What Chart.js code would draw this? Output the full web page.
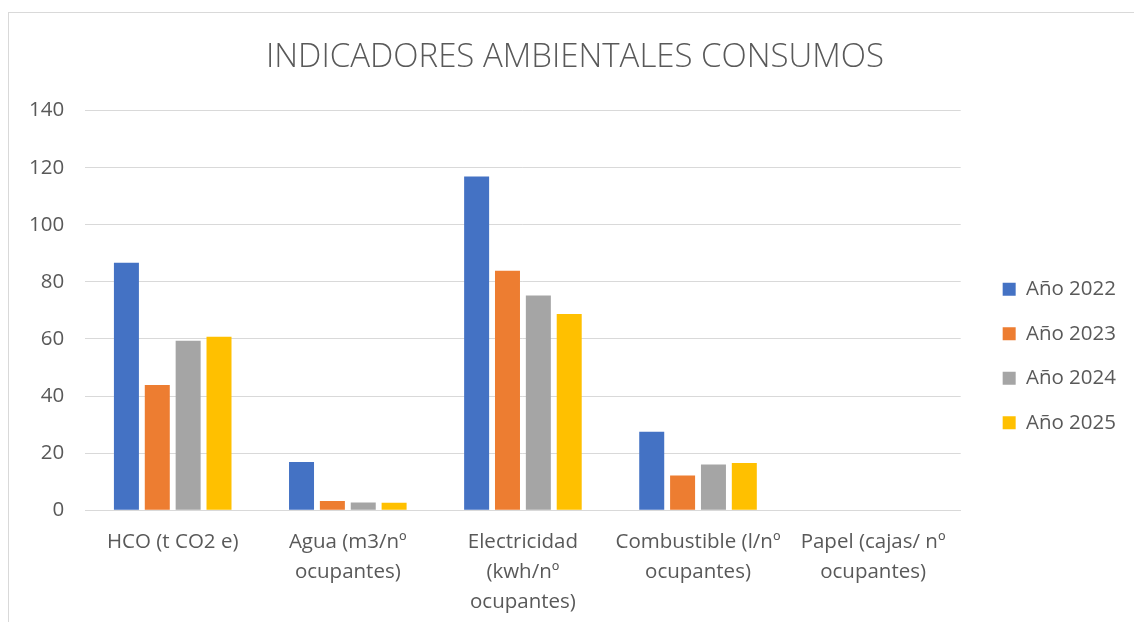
<!DOCTYPE html>
<html>
<head>
<meta charset="utf-8">
<script src="https://cdn.jsdelivr.net/npm/chart.js@4/dist/chart.umd.min.js"></script>
<style>
  html, body { margin: 0; padding: 0; background: #fff; overflow: hidden; }
  #marco { position: absolute; left: 8px; top: 12px; width: 1200px; height: 700px; border: 1px solid #d9d9d9; }
  #caja { position: absolute; left: 8px; top: 0; width: 1126px; height: 622px; }
</style>
</head>
<body>
<div id="marco"></div>
<div id="caja"><canvas id="grafico"></canvas></div>
<script>
const categorias = [
  ['HCO (t CO2 e)'],
  ['Agua (m3/nº', 'ocupantes)'],
  ['Electricidad', '(kwh/nº', 'ocupantes)'],
  ['Combustible (l/nº', 'ocupantes)'],
  ['Papel (cajas/ nº', 'ocupantes)']
];
const anio2022 = [86.7, 16.9, 116.9, 27.5, 0];
const anio2023 = [43.9, 3.2, 83.9, 12.2, 0];
const anio2024 = [59.4, 2.7, 75.2, 16.0, 0];
const anio2025 = [60.8, 2.6, 68.7, 16.5, 0];
const series = ['Año 2022', 'Año 2023', 'Año 2024', 'Año 2025'];
const colores = ['#4472C4', '#ED7D31', '#A5A5A5', '#FFC000'];

const fuente = 'Open Sans';
const gris = '#595959';

// deja un hueco entre el area del grafico y la leyenda, la baja un poco
// y corre el titulo hacia la derecha como en el original
const margenLeyenda = 18;
const bajarLeyenda = 39;
const correrTitulo = 16;
const ajustesLayout = {
  id: 'ajustesLayout',
  beforeInit(chart) {
    const fitOriginal = chart.legend.fit;
    chart.legend.fit = function () {
      fitOriginal.call(this);
      this.width += margenLeyenda;
    };
  },
  afterLayout(chart) {
    chart.legend.left += margenLeyenda;
    chart.legend.top += bajarLeyenda;
    chart.legend.bottom += bajarLeyenda;
    chart.titleBlock.left += correrTitulo;
  }
};

const ctx = document.getElementById('grafico').getContext('2d');
new Chart(ctx, {
  type: 'bar',
  data: {
    labels: categorias,
    datasets: [anio2022, anio2023, anio2024, anio2025].map((d, i) => ({
      label: series[i],
      data: d,
      backgroundColor: colores[i],
      borderWidth: 0,
      categoryPercentage: 0.705,
      barPercentage: 0.81
    }))
  },
  plugins: [ajustesLayout],
  options: {
    responsive: true,
    maintainAspectRatio: false,
    animation: false,
    layout: { padding: { left: 0, right: 8, bottom: -12, top: 0 } },
    plugins: {
      title: {
        display: true,
        text: 'INDICADORES AMBIENTALES CONSUMOS',
        color: gris,
        font: { family: fuente, size: 33, weight: '300' },
        padding: { top: 38, bottom: 33 }
      },
      legend: {
        position: 'right',
        labels: {
          color: gris,
          font: { family: fuente, size: 20.5 },
          boxWidth: 13,
          boxHeight: 13,
          padding: 24
        }
      },
      tooltip: { enabled: false }
    },
    scales: {
      x: {
        grid: { display: false, drawTicks: false },
        border: { color: '#d9d9d9' },
        ticks: {
          color: gris,
          font: { family: fuente, size: 20.5, lineHeight: 1.46 },
          padding: 17,
          maxRotation: 0,
          autoSkip: false
        }
      },
      y: {
        min: 0,
        max: 140,
        border: { display: false },
        grid: { color: '#d9d9d9', lineWidth: 1, drawTicks: false },
        ticks: {
          stepSize: 20,
          color: gris,
          font: { family: fuente, size: 20.5 },
          padding: 21
        }
      }
    }
  }
});
</script>
</body>
</html>
